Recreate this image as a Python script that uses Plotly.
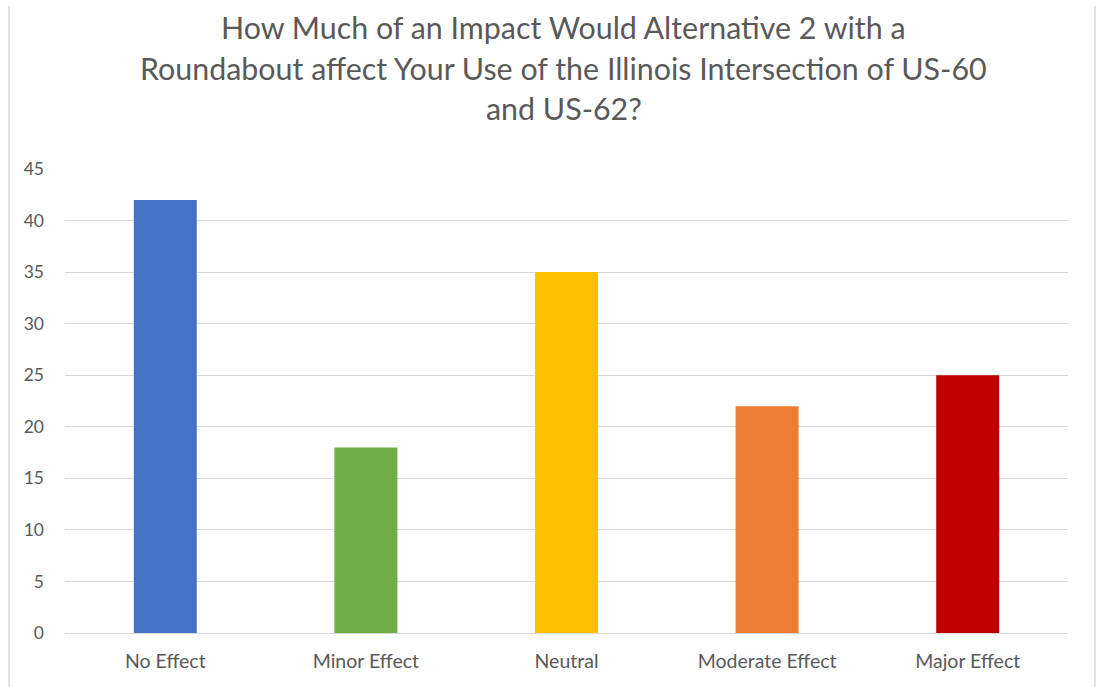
import plotly.graph_objects as go

# Survey responses
categories = ["No Effect", "Minor Effect", "Neutral", "Moderate Effect", "Major Effect"]
counts = [42, 18, 35, 22, 25]
bar_colors = ["#4472C4", "#70AD47", "#FFC000", "#ED7D31", "#C00000"]
y_ticks = [0, 5, 10, 15, 20, 25, 30, 35, 40, 45]

title_lines = [
    "How Much of an Impact Would Alternative 2 with a",
    "Roundabout affect Your Use of the Illinois Intersection of US-60",
    "and US-62?",
]

W, H = 1102, 687
L, R, T, B = 65, 34, 169, 54
PW, PH = W - L - R, H - T - B


def px_x(px):
    """Horizontal pixel position -> paper coordinate."""
    return (px - L) / PW


def px_y(py):
    """Vertical pixel position (from top) -> paper coordinate."""
    return (H - B - py) / PH


text_color = "#595959"
font_family = "Lato, 'Open Sans', sans-serif"

fig = go.Figure(
    go.Bar(
        x=categories,
        y=counts,
        marker=dict(color=bar_colors, line=dict(width=0)),
        width=0.314,
        hoverinfo="x+y",
    )
)

# title, one annotation per line for tight line spacing
annotations = []
for i, line in enumerate(title_lines):
    annotations.append(dict(
        text=line, showarrow=False, xref="paper", yref="paper",
        x=px_x(563.5), y=px_y(27 + 40.5 * i), xanchor="center", yanchor="middle",
        font=dict(family=font_family, size=30.4, color=text_color),
    ))

# light frame lines on the left and right edges of the chart area
frame = []
for px in (9, 1095):
    frame.append(dict(type="line", xref="paper", yref="paper",
                      x0=px_x(px), x1=px_x(px), y0=px_y(690), y1=px_y(6),
                      line=dict(color="#D9D9D9", width=1.5)))

fig.update_layout(
    width=W,
    height=H,
    margin=dict(l=L, r=R, t=T, b=B, pad=0),
    paper_bgcolor="white",
    plot_bgcolor="white",
    showlegend=False,
    font=dict(family=font_family, color=text_color, size=18),
    xaxis=dict(
        showgrid=False,
        showline=True,
        linecolor="#D9D9D9",
        linewidth=1,
        ticks="",
        ticklabelstandoff=11,
        tickfont=dict(size=19.5, color=text_color),
    ),
    yaxis=dict(
        range=[0, 45],
        tickvals=y_ticks,
        showgrid=True,
        gridcolor="#D9D9D9",
        gridwidth=1,
        zeroline=False,
        showline=False,
        ticks="",
        ticklabelstandoff=20,
        tickfont=dict(size=17.5, color=text_color),
    ),
    annotations=annotations,
    shapes=frame,
)

fig.write_html("out.html")
